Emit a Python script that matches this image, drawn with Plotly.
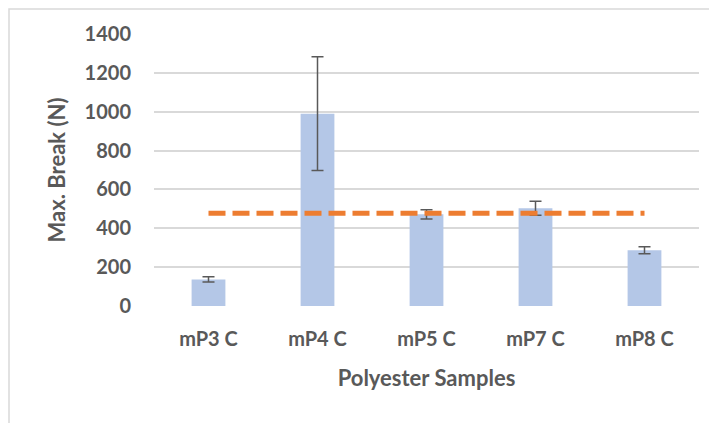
import plotly.graph_objects as go

categories = ["mP3 C", "mP4 C", "mP5 C", "mP7 C", "mP8 C"]
max_break = [137, 990, 472, 503, 287]
error = [14, 293, 24, 36, 18]
average = [478, 478, 478, 478, 478]
y_ticks = [0, 200, 400, 600, 800, 1000, 1200, 1400]

# page has an 8px body margin, so the figure starts at (8, 8) on screen
W, H = 709, 415
L, R, T, B = 146, 18, 26, 117
TXT = "#595959"
FONT = "Lato"

fig = go.Figure()
fig.add_trace(go.Bar(
    x=categories, y=max_break,
    marker=dict(color="#B4C7E7", line=dict(width=0)),
    error_y=dict(type="data", array=error, visible=True,
                 color="#595959", thickness=1.5, width=6),
    showlegend=False,
))
fig.add_trace(go.Scatter(
    x=categories, y=average, mode="lines",
    line=dict(color="#ED7D31", width=5, dash="17px,7px"),
    showlegend=False,
))

pw = W - L - R
ph = H - T - B
fig.add_shape(type="rect", xref="paper", yref="paper",
              x0=(1 - L) / pw, x1=(W + 5 - L) / pw,
              y0=-(H + 5 - T - ph) / ph, y1=(H - 1 - B) / ph,
              line=dict(color="#D9D9D9", width=1.5), layer="below")

fig.update_layout(
    width=W, height=H,
    margin=dict(l=L, r=R, t=T, b=B, autoexpand=False),
    paper_bgcolor="white", plot_bgcolor="white",
    bargap=0.69,
    font=dict(family=FONT, color=TXT),
    xaxis=dict(
        automargin=False,
        showgrid=False, showline=False, zeroline=False,
        tickfont=dict(size=20, weight="bold", color=TXT, family=FONT),
        ticklabelstandoff=19,
        title=dict(text="Polyester Samples", standoff=21,
                   font=dict(size=22, weight="bold", color=TXT, family=FONT)),
    ),
    yaxis=dict(
        automargin=False,
        range=[0, 1400], tickvals=y_ticks,
        showgrid=True, gridcolor="#D9D9D9", gridwidth=1.5,
        zeroline=False, showline=False,
        tickfont=dict(size=20, weight="bold", color=TXT, family=FONT),
        ticklabelstandoff=22,
        title=dict(text="Max. Break (N)", standoff=12,
                   font=dict(size=22, weight="bold", color=TXT, family=FONT)),
    ),
)

fig.write_html("out.html")
